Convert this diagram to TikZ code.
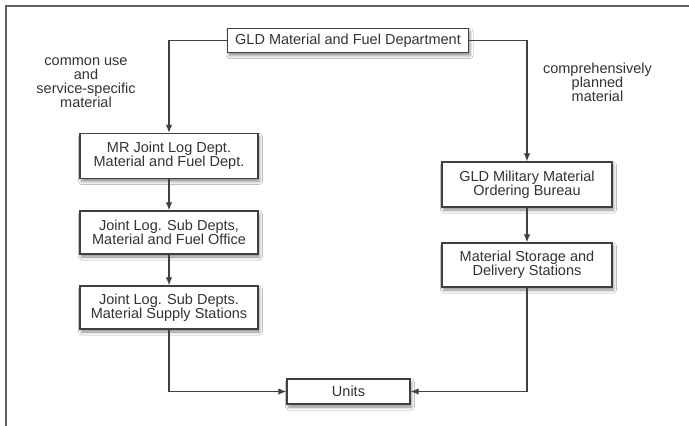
\documentclass[tikz,border=0pt]{standalone}
\usepackage{fontspec}
\setmainfont{Liberation Sans}
\usetikzlibrary{arrows.meta,shadows.blur}
\definecolor{txt}{HTML}{333333}
\definecolor{ln}{HTML}{404040}
\begin{document}
\begin{tikzpicture}[x=1pt,y=-1pt,
  box/.style={draw=ln, line width=1.3pt, fill=white, align=center, inner sep=2pt,
    text=txt, font=\fontsize{14.5}{14.2}\selectfont,
    blur shadow={shadow xshift=1.5pt, shadow yshift=-3pt, shadow blur radius=3pt, shadow opacity=45}},
  conn/.style={draw=ln, line width=1.2pt, -{Latex[length=8pt,width=6.5pt]}},
  lab/.style={align=center, text=txt, font=\fontsize{14.5}{14}\selectfont}]
\useasboundingbox (0,0) rectangle (689,426);
\fill[white] (0,0) rectangle (689,426);
\draw[gray!75!black, line width=1.5pt] (6,426) -- (6,6) -- (689,6);

\node[box, minimum width=241pt, minimum height=24pt] (top) at (348,40.5) {GLD Material and Fuel Department};
\node[box, minimum width=178pt, minimum height=45pt] (mr) at (169,156) {MR Joint Log Dept.\\Material and Fuel Dept.};
\node[box, minimum width=178pt, minimum height=43pt] (j2) at (169,232.5) {Joint Log. Sub Depts,\\Material and Fuel Office};
\node[box, minimum width=178pt, minimum height=43pt] (j3) at (169,307.5) {Joint Log. Sub Depts.\\Material Supply Stations};
\node[box, minimum width=170pt, minimum height=45pt] (mil) at (527,184.5) {GLD Military Material\\Ordering Bureau};
\node[box, minimum width=170pt, minimum height=44pt] (sto) at (527,265) {Material Storage and\\Delivery Stations};
\node[box, minimum width=123pt, minimum height=25pt] (units) at (348.5,391.5) {Units};

\node[lab] (l1) at (86,82.5) {common use\\and\\service-specific\\material};
\node[lab] (l2) at (597.5,82.5) {comprehensively\\planned\\material};

\draw[conn] (top.west) -| (mr.north);
\draw[conn] (top.east) -| (mil.north);
\draw[conn] (mr) -- (j2);
\draw[conn] (j2) -- (j3);
\draw[conn] (mil) -- (sto);
\draw[conn] (j3.south) |- (units.west);
\draw[conn] (sto.south) |- (units.east);
\end{tikzpicture}
\end{document}
